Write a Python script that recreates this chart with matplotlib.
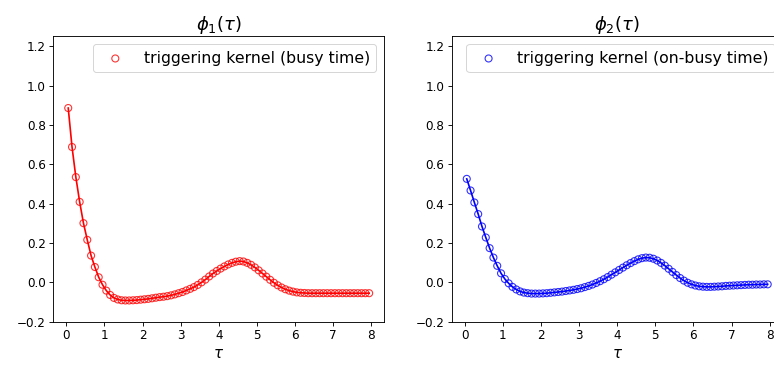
#!/usr/bin/env python3
"""Triggering kernels phi_1 and phi_2"""

import numpy as np
import matplotlib

matplotlib.use("Agg")
import matplotlib.pyplot as plt

# sample grid of the kernels
tau = np.round(np.arange(0.05, 8.0, 0.1), 2)

phi1 = [
    0.886, 0.688, 0.535, 0.409, 0.301, 0.216, 0.136, 0.078, 0.026, -0.012,
    -0.042, -0.064, -0.079, -0.087, -0.091, -0.092, -0.092, -0.091, -0.090, -0.088,
    -0.086, -0.084, -0.081, -0.078, -0.075, -0.073, -0.070, -0.066, -0.061, -0.055,
    -0.049, -0.041, -0.033, -0.024, -0.013, 0.000, 0.014, 0.030, 0.045, 0.058,
    0.070, 0.081, 0.091, 0.099, 0.105, 0.108, 0.106, 0.099, 0.089, 0.076,
    0.061, 0.045, 0.029, 0.013, -0.002, -0.015, -0.026, -0.035, -0.042, -0.047,
    -0.051, -0.053, -0.054, -0.055, -0.055, -0.055, -0.055, -0.055, -0.055, -0.055,
    -0.055, -0.055, -0.055, -0.055, -0.055, -0.055, -0.055, -0.055, -0.055, -0.055,
]

phi2 = [
    0.526, 0.467, 0.406, 0.347, 0.284, 0.228, 0.174, 0.126, 0.084, 0.046,
    0.017, -0.005, -0.023, -0.036, -0.046, -0.052, -0.055, -0.057, -0.057, -0.057,
    -0.056, -0.055, -0.053, -0.051, -0.049, -0.047, -0.044, -0.041, -0.038, -0.034,
    -0.030, -0.024, -0.018, -0.011, -0.003, 0.006, 0.016, 0.027, 0.039, 0.051,
    0.063, 0.075, 0.087, 0.098, 0.108, 0.117, 0.123, 0.126, 0.125, 0.120,
    0.111, 0.099, 0.085, 0.069, 0.053, 0.037, 0.022, 0.009, -0.002, -0.010,
    -0.016, -0.020, -0.022, -0.023, -0.023, -0.022, -0.021, -0.020, -0.018, -0.017,
    -0.016, -0.015, -0.014, -0.013, -0.012, -0.012, -0.011, -0.011, -0.010, -0.010,
]

titles = [r"$\phi_1(\tau)$", r"$\phi_2(\tau)$"]
labels = ["triggering kernel (busy time)", "triggering kernel (on-busy time)"]
colors = ["r", "b"]

sc = 1.11  # screen scale of the original

fig = plt.figure(figsize=(774 / 72, 367 / 72), dpi=72)
axs = [
    fig.add_axes([0.0687, 0.1234, 0.4277, 0.7774]),
    fig.add_axes([0.5836, 0.1234, 0.4277, 0.7774]),
]

for ax, y, title, label, c in zip(axs, [phi1, phi2], titles, labels, colors):
    ax.plot(tau, y, color=c, linewidth=1.5 * sc)
    ax.scatter(
        tau, y, s=(6.3 * sc) ** 2, facecolors="none", edgecolors=c,
        linewidths=1.0 * sc, alpha=0.8, label=label,
    )
    ax.set_ylim(-0.2, 1.25)
    ax.set_title(title, fontsize=18)
    ax.set_xlabel(r"$\tau$", fontsize=15)
    ax.tick_params(labelsize=12, length=3.5 * sc, width=0.8 * sc)
    for sp in ax.spines.values():
        sp.set_linewidth(0.8 * sc)
    ax.legend(loc="upper right", fontsize=15.8)

fig.savefig("out.png", dpi=72)
